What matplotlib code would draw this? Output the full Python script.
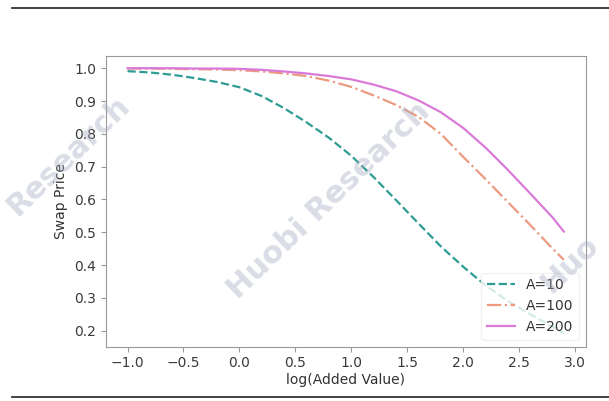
import matplotlib.pyplot as plt
from matplotlib.lines import Line2D

# values
x = [-1.0, -0.8, -0.6, -0.4, -0.2, 0.0, 0.2, 0.4, 0.6, 0.8, 1.0,
     1.2, 1.4, 1.6, 1.8, 2.0, 2.2, 2.4, 2.6, 2.8, 2.9]
a10 = [0.991, 0.987, 0.980, 0.970, 0.958, 0.942, 0.915, 0.878, 0.835, 0.788, 0.733,
       0.668, 0.598, 0.527, 0.457, 0.395, 0.338, 0.290, 0.250, 0.212, 0.192]
a100 = [0.999, 0.999, 0.998, 0.997, 0.996, 0.994, 0.990, 0.984, 0.976, 0.962, 0.943,
        0.917, 0.888, 0.852, 0.800, 0.730, 0.662, 0.592, 0.522, 0.450, 0.416]
a200 = [1.000, 1.000, 1.000, 0.999, 0.999, 0.998, 0.995, 0.990, 0.984, 0.976, 0.966,
        0.950, 0.930, 0.902, 0.866, 0.818, 0.758, 0.690, 0.618, 0.545, 0.502]

labels = ['A=10', 'A=100', 'A=200']

fig = plt.figure(figsize=(6.09, 4.01), dpi=100)
ax = fig.add_axes([0.1736, 0.1354, 0.788, 0.7256])

ax.plot(x, a10, color='#2e9c94', linestyle='--', linewidth=1.6, label=labels[0])
ax.plot(x, a100, color='#ec9a80', linestyle='-.', linewidth=1.6, label=labels[1])
ax.plot(x, a200, color='#da7ad8', linestyle='-', linewidth=1.6, label=labels[2])

ax.set_xlim(-1.195, 3.095)
ax.set_ylim(0.151, 1.038)
ax.set_xticks([-1.0, -0.5, 0.0, 0.5, 1.0, 1.5, 2.0, 2.5, 3.0])
ax.set_yticks([0.2, 0.3, 0.4, 0.5, 0.6, 0.7, 0.8, 0.9, 1.0])

ax.set_xlabel('log(Added Value)', color='#333333', fontsize=10, labelpad=2)
ax.set_ylabel('Swap Price', color='#333333', fontsize=10)

for s in ax.spines.values():
    s.set_color('#9a9a9a')
ax.tick_params(colors='#9a9a9a', labelcolor='#3a3a3a', labelsize=10, length=3.5)

leg = ax.legend(loc='lower right', fontsize=10, frameon=True, framealpha=0.8,
                borderaxespad=0.5)
leg.get_frame().set_edgecolor('#eeeeee')
for t in leg.get_texts():
    t.set_color('#333333')

# page rules above and below the figure
fig.add_artist(Line2D([0.02, 1.0], [0.981, 0.981], transform=fig.transFigure, color='#333333', linewidth=1.3))
fig.add_artist(Line2D([0.02, 1.0], [0.009, 0.009], transform=fig.transFigure, color='#333333', linewidth=1.3))

# watermark
wm = [('Research', 0.112, 0.61), ('Huobi Research', 0.54, 0.50), ('Huo', 0.935, 0.34)]
for txt, cx, cy in wm:
    fig.text(cx, cy, txt, rotation=44, fontsize=22, fontweight='bold',
             color='#a4aac0', alpha=0.4, ha='center', va='center', zorder=10)

fig.savefig('out.png', dpi=100)
